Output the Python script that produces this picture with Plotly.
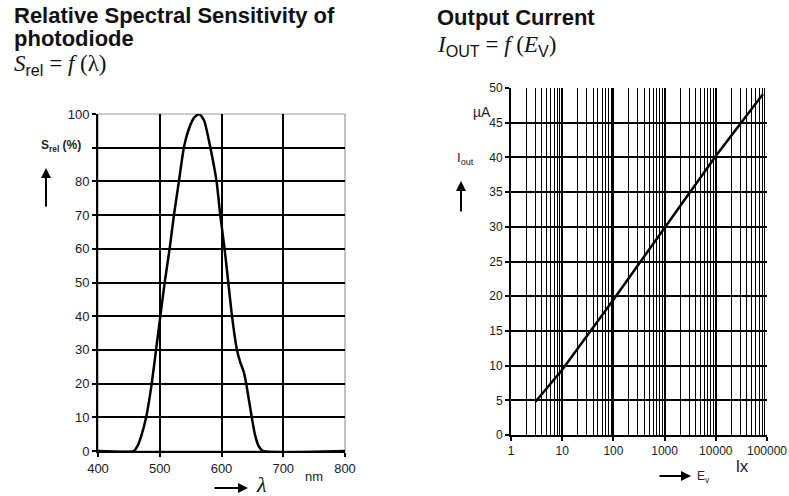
import plotly.graph_objects as go

# ---- data: left chart (relative spectral sensitivity) ----
wavelength_nm = [400, 458, 464, 471, 478, 487, 494, 501, 508, 516, 523, 531, 539, 548,
                 556, 564, 572, 582, 592, 598, 605, 611, 617, 625, 631, 636, 640, 649,
                 654, 660, 667, 800]
s_rel_pct = [0, 0, 1.5, 5, 10, 20, 30, 40, 50, 60, 70, 80, 90, 96,
             99, 100, 98, 90, 80, 70, 60, 50, 40, 30, 26, 23.5, 20, 10,
             5, 1.5, 0, 0]
left_xticks = [400, 500, 600, 700, 800]
left_xgrid = [500, 600, 700]
left_yticks = [0, 10, 20, 30, 40, 50, 60, 70, 80, 90, 100]
left_yticklabels = ["0", "10", "20", "30", "40", "50", "60", "70", "80", "", "100"]
left_ygrid = [10, 20, 30, 40, 50, 60, 70, 80, 90]

# ---- data: right chart (output current) ----
ev_lx = [3, 10, 100, 1000, 10000, 83000]
iout_ua = [4.8, 9.4, 19.5, 29.8, 40.2, 49.1]
right_xticks = [1, 10, 100, 1000, 10000, 100000]
right_xticklabels = ["1", "10", "100", "1000", "10000", "100000"]
right_yticks = [0, 5, 10, 15, 20, 25, 30, 35, 40, 45, 50]
minor_digits = [2, 3, 4, 5, 6, 7, 8, 9]

W, H = 789, 496
def px(x):
    return x / W
def py(y):
    return 1 - y / H

left_tick_font = dict(family="Liberation Sans, Arial", size=13, color="#1a1a1a")
right_tick_font = dict(family="Liberation Sans, Arial", size=12, color="#1a1a1a")

fig = go.Figure()
fig.add_trace(go.Scatter(x=wavelength_nm, y=s_rel_pct, mode="lines",
                         line=dict(color="black", width=2.5, shape="spline", smoothing=0.5),
                         xaxis="x", yaxis="y", showlegend=False, hoverinfo="skip"))
fig.add_trace(go.Scatter(x=ev_lx, y=iout_ua, mode="lines",
                         line=dict(color="black", width=2.5),
                         xaxis="x2", yaxis="y2", showlegend=False, hoverinfo="skip"))

minor_vals = [d * 10 ** k for k in range(5) for d in minor_digits]

common = dict(showline=True, linecolor="black", linewidth=2,
              ticks="outside", ticklen=4, tickcolor="black", tickwidth=1.5,
              zeroline=False, automargin=False)

fig.update_layout(
    width=W, height=H, margin=dict(l=0, r=0, t=0, b=0),
    paper_bgcolor="white", plot_bgcolor="white",
    xaxis=dict(domain=[px(98), px(345)], range=[400, 800], tickvals=left_xticks,
               showgrid=False, tickfont=left_tick_font,
               minor=dict(tickvals=left_xgrid, showgrid=True, gridcolor="black",
                          gridwidth=1.6, ticks=""),
               anchor="y", **common),
    yaxis=dict(domain=[py(451), py(114)], range=[0, 100], tickvals=left_yticks,
               ticktext=left_yticklabels, showgrid=False, tickfont=left_tick_font,
               minor=dict(tickvals=left_ygrid, showgrid=True, gridcolor="black",
                          gridwidth=1.6, ticks=""),
               anchor="x", **common),
    xaxis2=dict(domain=[px(511), px(767)], type="log", range=[0, 5],
                tickvals=right_xticks, ticktext=right_xticklabels,
                showgrid=True, gridcolor="black", gridwidth=1.5, tickfont=right_tick_font,
                minor=dict(tickvals=minor_vals, showgrid=True, gridcolor="black",
                           gridwidth=1, ticks=""),
                anchor="y2", **common),
    yaxis2=dict(domain=[py(435), py(88)], range=[0, 50], tickvals=right_yticks,
                showgrid=True, gridcolor="black", gridwidth=1.5, tickfont=right_tick_font,
                anchor="x2", **common),
)

# light grey frame for the top / right edges of the left chart
fig.add_shape(type="rect", xref="x domain", yref="y domain", x0=0, x1=1, y0=0, y1=1,
              line=dict(color="#9a9a9a", width=1.2), layer="below")

title_font = dict(family="Liberation Sans, Arial", size=22, color="#111")
formula_font = dict(family="Liberation Serif, Times New Roman", size=23, color="#111")
label_font = dict(family="Liberation Sans, Arial", size=12, color="#222")
sans = "font-family:Liberation Sans, Arial"

annotations = [
    dict(x=px(12), y=py(15), text="<b>Relative Spectral Sensitivity of</b>", font=title_font),
    dict(x=px(12), y=py(39), text="<b>photodiode</b>", font=title_font),
    dict(x=px(12), y=py(65),
         text=f"<i>S</i><sub><span style='{sans}'>rel</span></sub> = <i>f</i> (λ)",
         font=formula_font),
    dict(x=px(435), y=py(18), text="<b>Output Current</b>", font=title_font),
    dict(x=px(435), y=py(46),
         text=f"<i>I</i><sub><span style='{sans}'>OUT</span></sub> = <i>f</i> (<i>E</i><sub><span style='{sans}'>V</span></sub>)",
         font=formula_font),
    # left axis labels
    dict(x=px(61), y=py(146), text="<b>S<sub>rel</sub> (%)</b>", font=label_font, xanchor="center"),
    dict(x=px(303), y=py(476), text="nm", font=dict(family="Liberation Sans, Arial", size=13, color="#222")),
    dict(x=px(254), y=py(484), text="<i>λ</i>",
         font=dict(family="Liberation Serif, Times New Roman", size=22, color="#111")),
    # right axis labels
    dict(x=px(471), y=py(112), text="µA", font=dict(family="Liberation Sans, Arial", size=14, color="#222")),
    dict(x=px(465), y=py(158), text="I<sub>out</sub>", font=dict(family="Liberation Sans, Arial", size=13, color="#222"), xanchor="center"),
    dict(x=px(695), y=py(477), text="E<sub>v</sub>", font=label_font),
    dict(x=px(734), y=py(466), text="lx", font=dict(family="Liberation Sans, Arial", size=17, color="#222")),
]
for a in annotations:
    a.setdefault("xanchor", "left")
    a.update(xref="paper", yref="paper", yanchor="middle", showarrow=False)

arrows = [
    dict(x=px(46), y=py(168), ax=0, ay=40),
    dict(x=px(461), y=py(181), ax=0, ay=32),
    dict(x=px(248), y=py(488), ax=-35, ay=0),
    dict(x=px(691), y=py(476), ax=-33, ay=0),
]
for a in arrows:
    a.update(xref="paper", yref="paper", text="", showarrow=True, arrowhead=2,
             arrowsize=1, arrowwidth=2, arrowcolor="black")

fig.update_layout(annotations=annotations + arrows)

fig.write_html("out.html", config={"displayModeBar": False},
               post_script="document.body.style.margin='0px';document.body.style.padding='0px';")
